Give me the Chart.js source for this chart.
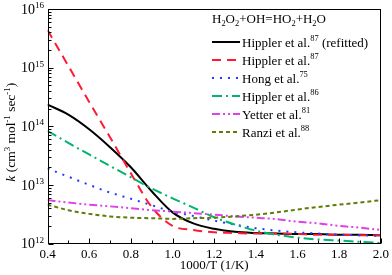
<!DOCTYPE html>
<html>
<head>
<meta charset="utf-8">
<script src="https://cdn.jsdelivr.net/npm/chart.js@4.4.1/dist/chart.umd.min.js"></script>
<style>
  html, body { margin: 0; padding: 0; background: #fff; }
</style>
</head>
<body>
<canvas id="myChart" width="392" height="275"></canvas>
<script>
// 1000/T (1/K)
const invT = [0.4, 0.5, 0.6, 0.7, 0.8, 0.9, 1.0, 1.1, 1.2, 1.3, 1.4, 1.5, 1.6, 1.7, 1.8, 1.9, 2.0];

// k (cm3 mol-1 sec-1)
const kHipplerRefit = [2.34e14, 1.58e14, 8.9e13, 4.4e13, 2.0e13, 7.8e12, 3.4e12, 2.2e12, 1.78e12, 1.58e12, 1.51e12, 1.48e12, 1.45e12, 1.45e12, 1.41e12, 1.41e12, 1.38e12];
const kHippler87 = [4.4e15, 1.07e15, 2.6e14, 6.5e13, 1.58e13, 4.2e12, 2.0e12, 1.7e12, 1.55e12, 1.51e12, 1.48e12, 1.48e12, 1.45e12, 1.41e12, 1.41e12, 1.38e12, 1.38e12];
const kHong = [1.9e13, 1.38e13, 1.0e13, 7.4e12, 5.8e12, 4.5e12, 3.5e12, 2.95e12, 2.45e12, 2.1e12, 1.82e12, 1.66e12, 1.55e12, 1.48e12, 1.41e12, 1.38e12, 1.35e12];
const kHippler86 = [8.3e13, 5.2e13, 3.3e13, 2.1e13, 1.35e13, 8.7e12, 5.9e12, 4.1e12, 2.8e12, 2.1e12, 1.66e12, 1.41e12, 1.26e12, 1.17e12, 1.12e12, 1.07e12, 1.02e12];
const kYetter = [5.5e12, 5.0e12, 4.6e12, 4.3e12, 4.0e12, 3.7e12, 3.5e12, 3.3e12, 3.1e12, 2.9e12, 2.75e12, 2.6e12, 2.35e12, 2.2e12, 2.0e12, 1.86e12, 1.7e12];
const kRanzi = [4.6e12, 3.7e12, 3.2e12, 2.9e12, 2.75e12, 2.7e12, 2.63e12, 2.7e12, 2.75e12, 2.9e12, 3.1e12, 3.4e12, 3.8e12, 4.2e12, 4.6e12, 5.0e12, 5.5e12];

const seriesNames = ["Hippler et al.", "Hippler et al.", "Hong et al.", "Hippler et al.", "Yetter et al.", "Ranzi et al."];
const seriesRefs = ["87", "87", "75", "86", "81", "88"];
const seriesNotes = [" (refitted)", "", "", "", "", ""];

const xTicks = [0.4, 0.6, 0.8, 1.0, 1.2, 1.4, 1.6, 1.8, 2.0];
const yDecades = [12, 13, 14, 15, 16];

const serif = '"Liberation Serif", "Times New Roman", serif';

// draw text made of parts: [text, mode], mode 0 normal, 1 sup, -1 sub, 2 italic
function drawRich(ctx, parts, x, y, size, dry) {
  let cx = x;
  for (const [t, m] of parts) {
    const s = (m === 1 || m === -1) ? size * 0.65 : size;
    ctx.font = (m === 2 ? "italic " : "") + s + "px " + serif;
    const dy = m === 1 ? -size * 0.4 : m === -1 ? size * 0.25 : 0;
    if (!dry) ctx.fillText(t, cx, y + dy);
    cx += ctx.measureText(t).width;
  }
  return cx - x;
}

const decor = {
  id: "decor",
  afterDraw(chart) {
    const ctx = chart.ctx;
    const a = chart.chartArea;
    const xs = chart.scales.x, ys = chart.scales.y;
    const L = Math.round(a.left) + 0.5, R = Math.round(a.right) - 0.5;
    const T = Math.round(a.top) + 0.5, B = Math.round(a.bottom) - 0.5;
    ctx.save();
    ctx.strokeStyle = "#000";
    ctx.lineWidth = 1;
    ctx.setLineDash([]);
    ctx.strokeRect(L, T, R - L, B - T);

    // inward ticks
    ctx.beginPath();
    for (let i = 0; i < xTicks.length; i++) {
      const px = Math.round(xs.getPixelForValue(xTicks[i])) + 0.5;
      ctx.moveTo(px, B); ctx.lineTo(px, B - 5);
      if (i < xTicks.length - 1) {
        const pm = Math.round(xs.getPixelForValue((xTicks[i] + xTicks[i + 1]) / 2)) + 0.5;
        ctx.moveTo(pm, B); ctx.lineTo(pm, B - 3);
      }
    }
    for (const d of yDecades) {
      for (let m = 1; m < 10; m++) {
        if (d === 16 && m > 1) break;
        const py = Math.round(ys.getPixelForValue(m * Math.pow(10, d))) + 0.5;
        const len = m === 1 ? 5 : 3;
        ctx.moveTo(L, py); ctx.lineTo(L + len, py);
      }
    }
    ctx.stroke();

    // y tick labels 10^n
    ctx.fillStyle = "#000";
    ctx.textBaseline = "alphabetic";
    ctx.textAlign = "left";
    for (const d of yDecades) {
      const py = ys.getPixelForValue(Math.pow(10, d));
      const w = drawRich(ctx, [["10", 0], [String(d), 1]], 0, 0, 14, true);
      drawRich(ctx, [["10", 0], [String(d), 1]], 44 - w, py + 4.8, 14);
    }

    // y title
    const yTitle = [["k", 2], [" (cm", 0], ["3", 1], [" mol", 0], ["-1", 1], [" sec", 0], ["-1", 1], [")", 0]];
    const tw = drawRich(ctx, yTitle, 0, 0, 13.5, true);
    ctx.save();
    ctx.translate(15, (a.top + a.bottom) / 2 + 6);
    ctx.rotate(-Math.PI / 2);
    drawRich(ctx, yTitle, -tw / 2, 0, 13.5);
    ctx.restore();

    // legend
    const lx = 212;
    drawRich(ctx, [["H", 0], ["2", -1], ["O", 0], ["2", -1], ["+OH=HO", 0], ["2", -1], ["+H", 0], ["2", -1], ["O", 0]], lx, 22.5, 13);
    chart.data.datasets.forEach((ds, i) => {
      const cy = 42 + i * 18;
      ctx.save();
      ctx.strokeStyle = ds.borderColor;
      ctx.lineWidth = ds.borderWidth;
      ctx.setLineDash(ds.borderDash || []);
      ctx.beginPath();
      ctx.moveTo(lx, cy); ctx.lineTo(lx + 28, cy);
      ctx.stroke();
      ctx.restore();
      ctx.fillStyle = "#000";
      drawRich(ctx, [[seriesNames[i], 0], [seriesRefs[i], 1], [seriesNotes[i], 0]], lx + 30, cy + 4.5, 13);
    });
    ctx.restore();
  }
};

const canvas = document.getElementById("myChart");

const myChart = new Chart(canvas, {
  type: "line",
  data: {
    labels: invT,
    datasets: [
      { label: seriesNames[0] + seriesRefs[0] + seriesNotes[0], data: kHipplerRefit, borderColor: "#000000", borderWidth: 2, order: 6 },
      { label: seriesNames[1] + seriesRefs[1], data: kHippler87, borderColor: "#ff1a33", borderWidth: 2, borderDash: [9, 6], order: 5 },
      { label: seriesNames[2] + seriesRefs[2], data: kHong, borderColor: "#1f3cff", borderWidth: 2, borderDash: [2, 6], order: 4 },
      { label: seriesNames[3] + seriesRefs[3], data: kHippler86, borderColor: "#00b56e", borderWidth: 2, borderDash: [10, 4, 2, 4], order: 3 },
      { label: seriesNames[4] + seriesRefs[4], data: kYetter, borderColor: "#e040e8", borderWidth: 2, borderDash: [8, 3, 2, 3, 2, 3], order: 2 },
      { label: seriesNames[5] + seriesRefs[5], data: kRanzi, borderColor: "#5e7d08", borderWidth: 2, borderDash: [4, 3], order: 1 },
    ].map(d => Object.assign({ pointRadius: 0, fill: false, cubicInterpolationMode: "monotone" }, d)),
  },
  options: {
    responsive: false,
    animation: false,
    layout: { padding: { top: 9, right: 9, left: 0, bottom: 0 } },
    plugins: { legend: { display: false }, tooltip: { enabled: false } },
    scales: {
      x: {
        type: "linear",
        min: 0.4,
        max: 2.0,
        grid: { display: false, drawTicks: false },
        border: { display: false },
        ticks: {
          stepSize: 0.2,
          padding: 3,
          color: "#000",
          font: { family: serif, size: 13 },
          callback: v => Number(v).toFixed(1),
        },
        title: {
          display: true,
          text: "1000/T (1/K)",
          color: "#000",
          font: { family: serif, size: 13 },
          padding: { top: 0, bottom: 2 },
        },
        afterFit: s => { s.height = 31.5; },
      },
      y: {
        type: "logarithmic",
        min: 1e12,
        max: 1e16,
        grid: { display: false, drawTicks: false },
        border: { display: false },
        ticks: { display: false },
        afterFit: s => { s.width = 47.5; },
      },
    },
  },
  plugins: [decor],
});
</script>
</body>
</html>
